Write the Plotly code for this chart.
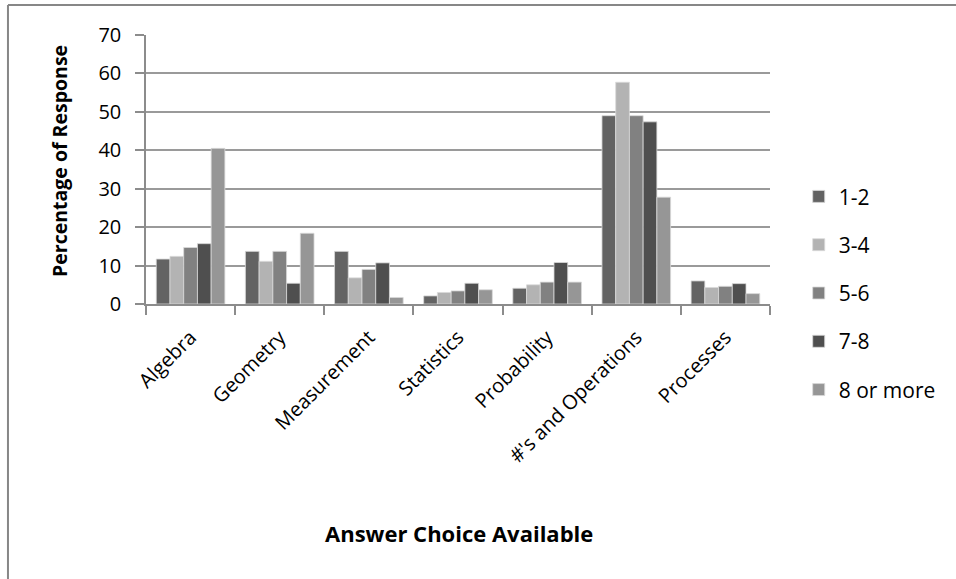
import plotly.graph_objects as go

categories = ["Algebra", "Geometry", "Measurement", "Statistics",
              "Probability", "#'s and Operations", "Processes"]

series_names = ["1-2", "3-4", "5-6", "7-8", "8 or more"]

vals_1_2 = [11.7, 13.7, 13.7, 2.1, 4.1, 49.0, 6.0]
vals_3_4 = [12.4, 11.1, 6.8, 3.0, 5.0, 57.7, 4.3]
vals_5_6 = [14.7, 13.7, 9.0, 3.4, 5.7, 49.0, 4.6]
vals_7_8 = [15.7, 5.4, 10.7, 5.4, 10.8, 47.4, 5.3]
vals_8_plus = [40.5, 18.4, 1.7, 3.7, 5.7, 27.8, 2.7]

y_ticks = [0, 10, 20, 30, 40, 50, 60, 70]

series_values = [vals_1_2, vals_3_4, vals_5_6, vals_7_8, vals_8_plus]
series_colors = ["#636363", "#b3b3b3", "#818181", "#4f4f4f", "#969696"]

FONT = "Open Sans"

fig = go.Figure()
for name, vals, color in zip(series_names, series_values, series_colors):
    fig.add_trace(go.Bar(
        name=name,
        x=categories,
        y=vals,
        marker=dict(color=color, line=dict(color="#d9d9d9", width=0.8)),
        legendgroup=name,
    ))

fig.update_layout(
    width=956,
    height=579,
    paper_bgcolor="white",
    plot_bgcolor="white",
    margin=dict(l=146, r=186, t=35, b=275),
    barmode="group",
    bargap=0.23,
    bargroupgap=0,
    font=dict(family=FONT, size=20, color="#000000"),
    legend=dict(
        x=1.046, xanchor="left",
        y=0.04, yanchor="middle",
        font=dict(family=FONT, size=21, color="#000000"),
        tracegroupgap=18,
        itemwidth=30,
        bgcolor="rgba(0,0,0,0)",
    ),
    xaxis=dict(
        type="category",
        tickangle=-45,
        showline=True,
        linecolor="#8c8c8c",
        linewidth=1.5,
        ticks="outside",
        ticklen=9,
        tickcolor="#8c8c8c",
        tickwidth=1.5,
        tickson="boundaries",
        ticklabelstandoff=12,
        showgrid=False,
        tickfont=dict(family=FONT, size=20, color="#000000"),
    ),
    yaxis=dict(
        range=[0, 70],
        tickvals=y_ticks,
        showline=True,
        linecolor="#8c8c8c",
        linewidth=1.5,
        ticks="outside",
        ticklen=9,
        tickcolor="#8c8c8c",
        tickwidth=1.5,
        ticklabelstandoff=10,
        showgrid=True,
        gridcolor="#9a9a9a",
        gridwidth=1.5,
        zeroline=False,
        tickfont=dict(family=FONT, size=20, color="#000000"),
    ),
    annotations=[
        dict(text="<b>Answer Choice Available</b>", xref="paper", yref="paper",
             x=0.501, y=-0.851, xanchor="center", yanchor="middle",
             showarrow=False, font=dict(family=FONT, size=22, color="#000000")),
        dict(text="<b>Percentage of Response</b>", xref="paper", yref="paper",
             x=-0.1378, y=0.532, xanchor="center", yanchor="middle", textangle=-90,
             showarrow=False, font=dict(family=FONT, size=19.5, color="#000000")),
    ],
    shapes=[
        dict(type="line", xref="paper", yref="paper",
             x0=-0.2212, x1=1.35, y0=1.1115, y1=1.1115,
             line=dict(color="#878787", width=2)),
        dict(type="line", xref="paper", yref="paper",
             x0=-0.2212, x1=-0.2212, y0=1.1115, y1=-1.2,
             line=dict(color="#878787", width=2)),
    ],
)

fig.write_html("out.html")
